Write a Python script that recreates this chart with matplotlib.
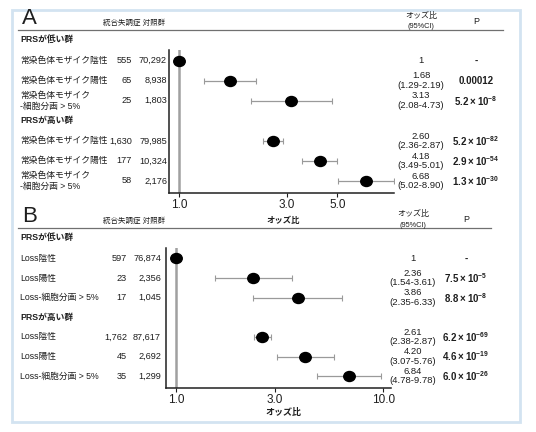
import matplotlib
matplotlib.use('Agg')
import matplotlib.pyplot as plt
from matplotlib.markers import MarkerStyle
from matplotlib.transforms import Affine2D, blended_transform_factory
from matplotlib.patches import Rectangle
from matplotlib.lines import Line2D
from matplotlib.ticker import NullLocator

plt.rcParams['font.family'] = ['Liberation Sans', 'Noto Sans CJK JP']
plt.rcParams['mathtext.fontset'] = 'custom'
plt.rcParams['mathtext.rm'] = 'Liberation Sans'
plt.rcParams['mathtext.bf'] = 'Liberation Sans:bold'

W, H = 536, 432
TXT = '#1e1e1e'

# ---- data: panel A ----
a_groups = ['PRSが低い群', 'PRSが高い群']
a_labels = ['常染色体モザイク陰性', '常染色体モザイク陽性', '常染色体モザイク\n-細胞分画 > 5%',
            '常染色体モザイク陰性', '常染色体モザイク陽性', '常染色体モザイク\n-細胞分画 > 5%']
a_cases = [555, 65, 25, 1630, 177, 58]
a_ctrls = [70292, 8938, 1803, 79985, 10324, 2176]
a_or = [1.0, 1.68, 3.13, 2.60, 4.18, 6.68]
a_lo = [None, 1.29, 2.08, 2.36, 3.49, 5.02]
a_hi = [None, 2.19, 4.73, 2.87, 5.01, 8.90]
a_p = ['-', '0.00012', ('5.2', '-8'), ('5.2', '-82'), ('2.9', '-54'), ('1.3', '-30')]
a_ticks = [1.0, 3.0, 5.0]

# ---- data: panel B ----
b_groups = ['PRSが低い群', 'PRSが高い群']
b_labels = ['Loss陰性', 'Loss陽性', 'Loss-細胞分画 > 5%',
            'Loss陰性', 'Loss陽性', 'Loss-細胞分画 > 5%']
b_cases = [597, 23, 17, 1762, 45, 35]
b_ctrls = [76874, 2356, 1045, 87617, 2692, 1299]
b_or = [1.0, 2.36, 3.86, 2.61, 4.20, 6.84]
b_lo = [None, 1.54, 2.35, 2.38, 3.07, 4.78]
b_hi = [None, 3.61, 6.33, 2.87, 5.76, 9.78]
b_p = ['-', ('7.5', '-5'), ('8.8', '-8'), ('6.2', '-69'), ('4.6', '-19'), ('6.0', '-26')]
b_ticks = [1.0, 3.0, 10.0]

row_pos = [1, 2, 3, 5, 6, 7]
group_pos = [0, 4]


def fx(x):
    return x / W


def fy(y):
    return 1 - y / H


def p_text(p):
    if isinstance(p, tuple):
        return r'$\mathbf{%s\times10^{%s}}$' % p
    return p


def draw_panel(fig, letter, top, box, xlim, ticks, groups, labels, cases, ctrls,
               odds, lo, hi, pvals, cols, line_end, mid_header=False, xlabel=None):
    left, right, ax_top, ax_bot = box
    ax = fig.add_axes([fx(left), fy(ax_bot), fx(right - left), (ax_bot - ax_top) / H])
    ax.set_xscale('log')
    ax.set_xlim(*xlim)
    ax.set_ylim(7.6, 0.47)
    ax.axvline(1.0, color='#a0a0a0', lw=1.8, zorder=1)

    for y, o, l, h in zip(row_pos, odds, lo, hi):
        if l is not None:
            ax.errorbar([o], [y], xerr=[[o - l], [h - o]], fmt='none',
                        ecolor='#9a9a9a', elinewidth=0.9, capsize=2.2, capthick=0.8, zorder=2)
    ax.plot(odds, row_pos, ls='none', color='black',
            marker=MarkerStyle('o', transform=Affine2D().scale(1.15, 1.0)),
            markersize=7.2, zorder=3)

    for s in ['top', 'right']:
        ax.spines[s].set_visible(False)
    for s in ['left', 'bottom']:
        ax.spines[s].set_linewidth(1.1)
        ax.spines[s].set_color('#202020')
    ax.set_yticks([])
    ax.set_xticks(ticks)
    ax.set_xticklabels(['%.1f' % t for t in ticks])
    ax.xaxis.set_minor_locator(NullLocator())
    ax.tick_params(axis='x', length=3, width=0.8, labelsize=8.5, pad=1.5, colors=TXT)
    if xlabel:
        fig.text(fx(283), fy(top + 193), xlabel, fontsize=6.5, color=TXT,
                 ha='center', va='center', fontweight='bold')

    tr = blended_transform_factory(fig.transFigure, ax.transData)
    label_x, case_x, ctrl_x, or_x, p_x = cols

    # header row
    fig.text(fx(22), fy(top - 3), letter, fontsize=16, color=TXT, ha='left', va='center')
    fig.text(fx(134), fy(top + 2), '統合失調症 対照群', fontsize=5.4, color=TXT,
             ha='center', va='center')
    if mid_header:
        fig.text(fx(283), fy(top + 2), 'オッズ比', fontsize=6, color=TXT,
                 ha='center', va='center', fontweight='bold')
    fig.text(fx(or_x), fy(top - 5), 'オッズ比', fontsize=5.8, color=TXT, ha='center', va='center')
    fig.text(fx(or_x), fy(top + 6), '(95%CI)', fontsize=5.3, color=TXT, ha='center', va='center')
    fig.text(fx(p_x), fy(top), 'P', fontsize=6.5, color=TXT, ha='center', va='center')
    fig.add_artist(Line2D([fx(18), fx(line_end)], [fy(top + 9)] * 2,
                          color='#707070', lw=0.9))

    for y, g in zip(group_pos, groups):
        ax.text(fx(label_x), y, g, transform=tr, fontsize=6.3, color=TXT,
                ha='left', va='center', fontweight='bold')

    for y, lab, c, k, o, l, h, p in zip(row_pos, labels, cases, ctrls, odds, lo, hi, pvals):
        ax.text(fx(label_x), y, lab, transform=tr, fontsize=6.3, color=TXT,
                ha='left', va='center', linespacing=1.3)
        ax.text(fx(case_x), y, f'{c:,}', transform=tr, fontsize=6.6, color=TXT,
                ha='right', va='center')
        ax.text(fx(ctrl_x), y, f'{k:,}', transform=tr, fontsize=6.6, color=TXT,
                ha='right', va='center')
        if l is None:
            or_s = '1'
        else:
            or_s = f'{o:.2f}\n({l:.2f}-{h:.2f})'
        ax.text(fx(or_x), y, or_s, transform=tr, fontsize=6.8, color=TXT,
                ha='center', va='center', linespacing=1.08)
        ax.text(fx(p_x), y, p_text(p), transform=tr, fontsize=7, color=TXT,
                ha='center', va='center', fontweight='bold')
    return ax


fig = plt.figure(figsize=(W / 100, H / 100), dpi=100)
fig.patch.set_facecolor('white')

draw_panel(fig, 'A', 21, (169, 394, 50, 193), (0.905, 8.9), a_ticks,
           a_groups, a_labels, a_cases, a_ctrls, a_or, a_lo, a_hi, a_p,
           (20, 132, 167, 421, 476), 503)
draw_panel(fig, 'B', 219, (166, 391, 248, 388), (0.895, 10.9), b_ticks,
           b_groups, b_labels, b_cases, b_ctrls, b_or, b_lo, b_hi, b_p,
           (20, 127, 161, 413, 466), 491, mid_header=True, xlabel='オッズ比')

# light blue frame around the figure
fig.add_artist(Rectangle((fx(12), fy(422)), fx(520 - 12), (422 - 10) / H,
                         fill=False, edgecolor='#d3e3f1', lw=2.0))

fig.savefig('out.png', dpi=100)
